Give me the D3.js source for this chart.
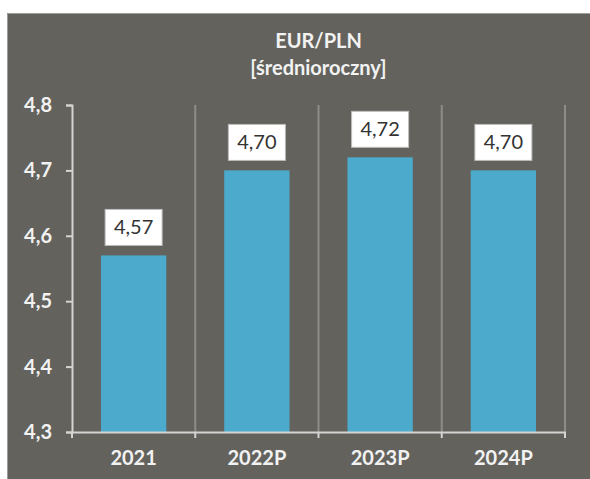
<!DOCTYPE html>
<html>
<head>
<meta charset="utf-8">
<script src="https://cdn.jsdelivr.net/npm/d3@7"></script>
<style>
  body { margin: 0; background: #ffffff; }
  svg { display: block; }
</style>
</head>
<body>
<div id="chart"></div>
<script>
// EUR/PLN average yearly rate
const categories = ["2021", "2022P", "2023P", "2024P"];
const values = [4.57, 4.70, 4.72, 4.70];
const valueLabels = ["4,57", "4,70", "4,72", "4,70"];
const yTicks = [4.3, 4.4, 4.5, 4.6, 4.7, 4.8];
const titleLines = ["EUR/PLN", "[średnioroczny]"];

const fullWidth = 590;
const fullHeight = 479;
const margin = { top: 105, right: 25, bottom: 47, left: 72 };
const width = fullWidth - margin.left - margin.right;
const height = fullHeight - margin.top - margin.bottom;

const fontFamily = "Lato, 'Open Sans', sans-serif";

const svg = d3
  .select("#chart")
  .append("svg")
  .attr("width", fullWidth)
  .attr("height", fullHeight);

// gray panel
svg
  .append("rect")
  .attr("x", 7)
  .attr("y", 13)
  .attr("width", fullWidth - 7)
  .attr("height", fullHeight - 13)
  .attr("fill", "#63625d");
svg
  .append("path")
  .attr("d", `M7.5,${fullHeight} V13.5 H${fullWidth}`)
  .attr("fill", "none")
  .attr("stroke", "#9c9c9a")
  .attr("stroke-width", 1);

const g = svg
  .append("g")
  .attr("transform", `translate(${margin.left},${margin.top})`);

// scales
const x = d3.scaleBand().domain(categories).range([0, width]).padding(0);
const y = d3.scaleLinear().domain([4.3, 4.8]).range([height, 0]);

// title
svg
  .selectAll("text.title")
  .data(titleLines)
  .enter()
  .append("text")
  .attr("class", "title")
  .attr("x", margin.left + width / 2)
  .attr("y", (d, i) => 48 + i * 27)
  .attr("text-anchor", "middle")
  .attr("fill", "#f2f2f2")
  .style("font-family", fontFamily)
  .style("font-weight", "bold")
  .style("font-size", "20px")
  .text((d) => d);

// vertical separators between categories
g.selectAll("line.sep")
  .data(categories)
  .enter()
  .append("line")
  .attr("class", "sep")
  .attr("x1", (d) => x(d) + x.bandwidth())
  .attr("x2", (d) => x(d) + x.bandwidth())
  .attr("y1", 0)
  .attr("y2", height)
  .attr("stroke", "#8e8d89")
  .attr("stroke-width", 2);

// bars
const barWidth = x.bandwidth() * 0.53;
g.selectAll("rect.bar")
  .data(values)
  .enter()
  .append("rect")
  .attr("class", "bar")
  .attr("x", (d, i) => x(categories[i]) + (x.bandwidth() - barWidth) / 2)
  .attr("y", (d) => y(d))
  .attr("width", barWidth)
  .attr("height", (d) => height - y(d))
  .attr("fill", "#4cabcc");

// value boxes
const boxW = 57;
const boxH = 36;
const boxes = g
  .selectAll("g.vlabel")
  .data(values)
  .enter()
  .append("g")
  .attr("class", "vlabel")
  .attr(
    "transform",
    (d, i) =>
      `translate(${x(categories[i]) + x.bandwidth() / 2},${y(d) - 10 - boxH})`
  );
boxes
  .append("rect")
  .attr("x", -boxW / 2)
  .attr("y", 0)
  .attr("width", boxW)
  .attr("height", boxH)
  .attr("fill", "#ffffff")
  .attr("stroke", "#bdbdbd")
  .attr("stroke-width", 1);
boxes
  .append("text")
  .attr("x", 0)
  .attr("y", boxH / 2 + 7)
  .attr("text-anchor", "middle")
  .attr("fill", "#333333")
  .style("font-family", fontFamily)
  .style("font-size", "20px")
  .text((d, i) => valueLabels[i]);

// y axis
const yAxis = g
  .append("g")
  .attr("class", "y-axis")
  .call(
    d3
      .axisLeft(y)
      .tickValues(yTicks)
      .tickSize(6)
      .tickPadding(14)
      .tickFormat((d) => d3.format(".1f")(d).replace(".", ","))
  );
yAxis.select(".domain").attr("stroke", "#d4d4d2").attr("stroke-width", 2);
yAxis.selectAll(".tick line").attr("stroke", "#d4d4d2").attr("stroke-width", 2);
yAxis
  .selectAll(".tick text")
  .attr("fill", "#f2f2f2")
  .style("font-family", fontFamily)
  .style("font-weight", "bold")
  .style("font-size", "20px");

// x axis
const xAxis = g
  .append("g")
  .attr("class", "x-axis")
  .attr("transform", `translate(0,${height})`)
  .call(d3.axisBottom(x).tickSize(0).tickPadding(19));
xAxis.select(".domain").attr("stroke", "#d4d4d2").attr("stroke-width", 2);
xAxis
  .selectAll(".tick text")
  .attr("fill", "#f2f2f2")
  .style("font-family", fontFamily)
  .style("font-weight", "bold")
  .style("font-size", "20px");

// small ticks at category boundaries
const boundaries = [0].concat(categories.map((d) => x(d) + x.bandwidth()));
xAxis
  .selectAll("line.bound")
  .data(boundaries)
  .enter()
  .append("line")
  .attr("class", "bound")
  .attr("x1", (d) => d)
  .attr("x2", (d) => d)
  .attr("y1", 0)
  .attr("y2", 6)
  .attr("stroke", "#d4d4d2")
  .attr("stroke-width", 2);
</script>
</body>
</html>
